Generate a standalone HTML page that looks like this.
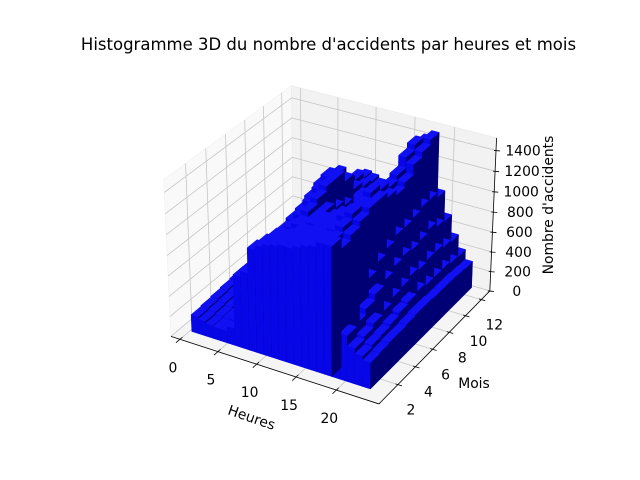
<!DOCTYPE html>
<html><head><meta charset="utf-8"><style>
html,body{margin:0;padding:0;background:#fff;}
svg{display:block;}
text{font-family:"DejaVu Sans","Liberation Sans",sans-serif;fill:#000;}
</style></head><body>
<svg id="chart" width="640" height="480" viewBox="0 0 640 480" xmlns="http://www.w3.org/2000/svg">
<rect width="640" height="480" fill="#fff"/>
<text x="328.5" y="50" font-size="16.5" text-anchor="middle">Histogramme 3D du nombre d'accidents par heures et mois</text>
<g id="panes"></g>
<g id="grid"></g>
<g id="bars"></g>
<g id="axes"></g>
<text x="0" y="0" font-size="13.9" text-anchor="middle" transform="translate(250,422) rotate(19)">Heures</text>
<text x="474" y="388" font-size="13.9" text-anchor="middle">Mois</text>
<text x="0" y="0" font-size="13.9" text-anchor="middle" transform="translate(553,205) rotate(-90)">Nombre d'accidents</text>
</svg>
<script>
const hours = [0,1,2,3,4,5,6,7,8,9,10,11,12,13,14,15,16,17,18,19,20,21,22,23];
const months = [1,2,3,4,5,6,7,8,9,10,11,12];
const xTicks = [0,5,10,15,20];
const yTicks = [2,4,6,8,10,12];
const zTicks = [0,200,400,600,800,1000,1200,1400];
const m1 = [170,150,130,120,120,170,700,760,1000,1050,1080,1100,1120,1120,1150,1180,1200,1250,1250,520,450,350,300,260];
const m2 = [180,160,140,130,140,230,680,760,980,1000,1050,1080,1100,1100,1120,1150,1180,1200,1150,580,480,380,320,270];
const m3 = [190,170,150,130,150,300,690,780,960,980,1000,1050,1080,1100,1120,1150,1200,1250,1200,650,540,420,330,280];
const m4 = [200,180,160,140,160,320,700,800,950,1000,1050,1050,1100,1100,1120,1150,1250,1300,1250,720,600,450,350,280];
const m5 = [210,190,170,150,170,350,720,820,980,1050,1100,1050,1050,1080,1100,1150,1200,1300,1300,800,650,500,380,290];
const m6 = [220,200,180,160,180,380,740,850,1000,1100,1150,1050,1000,1050,1080,1100,1200,1350,1300,850,700,520,400,300];
const m7 = [230,210,180,160,180,380,740,850,1050,1150,1200,1000,950,1000,1050,1100,1150,1300,1250,900,720,550,420,300];
const m8 = [220,200,170,150,170,350,720,830,1100,1200,1200,950,900,950,1000,1050,1100,1250,1200,900,700,530,400,290];
const m9 = [210,190,170,150,170,370,730,830,1050,1150,1100,900,900,950,1000,1050,1150,1300,1250,920,720,550,400,290];
const m10 = [200,180,160,150,170,380,720,800,950,1000,950,900,900,950,1000,1100,1200,1400,1350,950,750,550,400,290];
const m11 = [200,170,150,140,160,350,700,780,900,950,900,850,880,900,950,1050,1200,1450,1400,950,700,520,380,280];
const m12 = [190,170,150,140,150,320,680,760,880,900,880,850,850,900,950,1050,1150,1400,1450,900,680,500,370,270];
const counts = [m1,m2,m3,m4,m5,m6,m7,m8,m9,m10,m11,m12];

const xlim=[-1.2,25.2], ylim=[-0.1,13.1], zlim=[0,1520];
const NS='http://www.w3.org/2000/svg';
const k=1.8294640721620434/Math.sqrt(16+16+9);
const asp=[4*k,4*k,3*k];
const el=30*Math.PI/180, az=-60*Math.PI/180;
const w=[Math.cos(el)*Math.cos(az),Math.cos(el)*Math.sin(az),Math.sin(el)];
const R=[asp[0]/2,asp[1]/2,asp[2]/2];
const eye=[R[0]+10*w[0],R[1]+10*w[1],R[2]+10*w[2]];
let u=[-w[1],w[0],0]; const un=Math.hypot(u[0],u[1]); u=[u[0]/un,u[1]/un,0];
const v=[w[1]*u[2]-w[2]*u[1], w[2]*u[0]-w[0]*u[2], w[0]*u[1]-w[1]*u[0]];
function raw(x,y,z){
  const b=[(x-xlim[0])/(xlim[1]-xlim[0])*asp[0],(y-ylim[0])/(ylim[1]-ylim[0])*asp[1],(z-zlim[0])/(zlim[1]-zlim[0])*asp[2]];
  const d=[b[0]-eye[0],b[1]-eye[1],b[2]-eye[2]];
  const dw=d[0]*w[0]+d[1]*w[1]+d[2]*w[2];
  return [(d[0]*u[0]+d[1]*u[1]+d[2]*u[2])/(-dw),(d[0]*v[0]+d[1]*v[1]+d[2]*v[2])/(-dw),-dw];
}
const refs=[[[0,ylim[0],0],[183,340]],[[20,ylim[0],0],[335,390]],[[xlim[1],2,0],[397,386]],[[xlim[1],12,0],[485,297]],
 [[xlim[1],ylim[1],1400],[494,149]],[[xlim[0],ylim[1],zlim[1]],[290,87]],[[xlim[0],ylim[0],0],[170,337]]];
let mX=0,mY=0,mx=0,my=0; const P=refs.map(r=>raw(...r[0]));
refs.forEach((r,i)=>{mX+=P[i][0];mY+=P[i][1];mx+=r[1][0];my+=r[1][1];});
const n=refs.length; mX/=n;mY/=n;mx/=n;my/=n;
let num=0,den=0;
refs.forEach((r,i)=>{const X=P[i][0]-mX,Y=P[i][1]-mY;num+=X*(r[1][0]-mx)-Y*(r[1][1]-my);den+=X*X+Y*Y;});
const S=num/den, CX=mx-S*mX, CY=my+S*mY;
function proj(x,y,z){const p=raw(x,y,z);return [CX+S*p[0],CY-S*p[1],p[2]];}
function pts(arr){return arr.map(p=>{const q=proj(...p);return q[0].toFixed(2)+','+q[1].toFixed(2);}).join(' ');}
function line(g,a,b,stroke,sw){const l=document.createElementNS(NS,'line');const p=proj(...a),q=proj(...b);
 l.setAttribute('x1',p[0]);l.setAttribute('y1',p[1]);l.setAttribute('x2',q[0]);l.setAttribute('y2',q[1]);
 l.setAttribute('stroke',stroke);l.setAttribute('stroke-width',sw);g.appendChild(l);return l;}
function poly(g,arr,fill,stroke){const e=document.createElementNS(NS,'polygon');e.setAttribute('points',pts(arr));
 e.setAttribute('fill',fill);e.setAttribute('stroke',stroke||fill);e.setAttribute('stroke-width',stroke?0.8:0.5);e.setAttribute('stroke-linejoin','round');g.appendChild(e);return e;}

const [x0,x1]=xlim,[y0,y1]=ylim,[z0,z1]=zlim;
const panes=document.getElementById('panes');
let pe;
pe=poly(panes,[[x0,y0,z0],[x0,y1,z0],[x0,y1,z1],[x0,y0,z1]],'#f9f9f9','#f2f2f2');


pe=poly(panes,[[x0,y1,z0],[x1,y1,z0],[x1,y1,z1],[x0,y1,z1]],'#f2f2f2','#ececec');


pe=poly(panes,[[x0,y0,z0],[x1,y0,z0],[x1,y1,z0],[x0,y1,z0]],'#f5f5f5','#eeeeee');



const grid=document.getElementById('grid');
const GC='#c6c6c6';
let gl;
xTicks.forEach(t=>{
 gl=line(grid,[t,y0,z0],[t,y1,z0],GC,0.8);
 
 
 gl=line(grid,[t,y1,z0],[t,y1,z1],GC,0.8);
 
 
});
yTicks.forEach(t=>{
 gl=line(grid,[x0,t,z0],[x1,t,z0],GC,0.8);
 
 
 gl=line(grid,[x0,t,z0],[x0,t,z1],GC,0.8);
 
 
});
zTicks.forEach(t=>{
 gl=line(grid,[x0,y0,t],[x0,y1,t],GC,0.8);
 
 
 gl=line(grid,[x0,y1,t],[x1,y1,t],GC,0.8);
 
 
});

const barsG=document.getElementById('bars');
const BX=0.25, PX=0.95, BY=0.4, BD=1.0;
const list=[];
months.forEach((m,mi)=>hours.forEach((h,hi)=>{
 const val=counts[mi][hi];
 const c=proj(BX+h*PX+PX/2,m-0.5+BY+BD/2,val/2);
 list.push({h,m,val,d:c[2]});
}));
list.sort((a,b)=>b.d-a.d);
list.forEach(b=>{
 const xa=BX+b.h*PX,xb=xa+PX,ya=b.m-0.5+BY,yb=ya+BD,z=b.val;
 const g=document.createElementNS(NS,'g');
 
 
 poly(g,[[xa,ya,0],[xb,ya,0],[xb,ya,z],[xa,ya,z]],'#0606e6');
 poly(g,[[xb,ya,0],[xb,yb,0],[xb,yb,z],[xb,ya,z]],'#000074');
 poly(g,[[xa,ya,z],[xb,ya,z],[xb,yb,z],[xa,yb,z]],'#1010f2');
 barsG.appendChild(g);
});

const axes=document.getElementById('axes');
let al;
al=line(axes,[x0,y0,z0],[x1,y0,z0],'#000',0.8);


al=line(axes,[x1,y0,z0],[x1,y1,z0],'#000',0.8);


al=line(axes,[x1,y1,z0],[x1,y1,z1],'#000',0.8);


function txt(x,y,s,anchor){const t=document.createElementNS(NS,'text');t.setAttribute('x',x);t.setAttribute('y',y);
 t.setAttribute('font-size','13.9');t.setAttribute('text-anchor',anchor||'middle');t.textContent=s;axes.appendChild(t);return t;}
xTicks.forEach(t=>{
 const tk=line(axes,[t,y0+0.25,z0],[t,y0-0.4,z0],'#000',0.8);
 
 
 const p=proj(t,y0,z0);
 const lb=txt(p[0]-7,p[1]+33,String(t));
 
 
});
yTicks.forEach(t=>{
 const tk=line(axes,[x1-0.3,t,z0],[x1+0.5,t,z0],'#000',0.8);
 
 
 const p=proj(x1,t,z0);
 const lb=txt(p[0]+13,p[1]+30,String(t));
 
 
});
zTicks.forEach(t=>{
 const p=proj(x1,y1,t);
 const tk=document.createElementNS(NS,'line');
 tk.setAttribute('x1',p[0]-2);tk.setAttribute('y1',p[1]);tk.setAttribute('x2',p[0]+4);tk.setAttribute('y2',p[1]+0.5);
 tk.setAttribute('stroke','#000');tk.setAttribute('stroke-width',0.8);
 
 
 axes.appendChild(tk);
 const lb=txt(p[0]+27,p[1]+5,String(t));
 
 
});
</script>
</body></html>
